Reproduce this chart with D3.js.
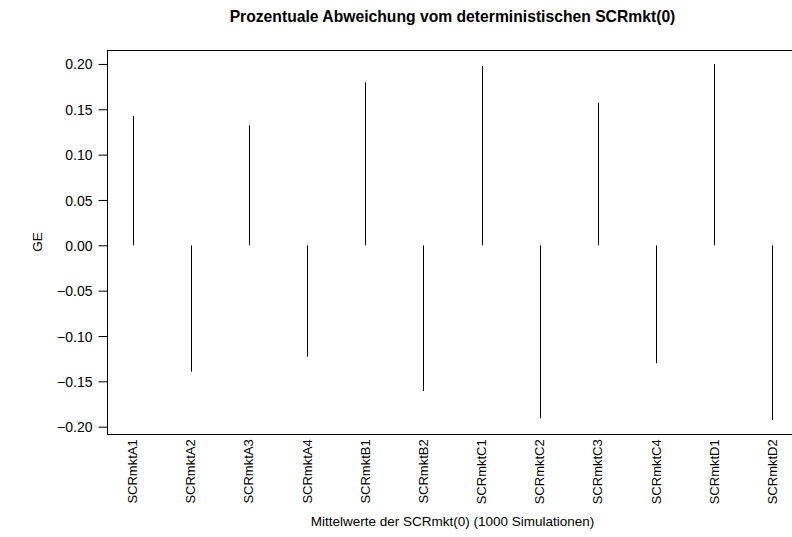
<!DOCTYPE html>
<html>
<head>
<meta charset="utf-8">
<script src="https://cdn.jsdelivr.net/npm/d3@7"></script>
<style>
  body { margin: 0; background: #fff; }
  svg { display: block; }
  text { font-family: "Liberation Sans", Arial, sans-serif; fill: #000; }
</style>
</head>
<body>
<div id="chart"></div>
<script>
'use strict'

// categories and mean relative deviations
const categories = ["SCRmktA1", "SCRmktA2", "SCRmktA3", "SCRmktA4",
                    "SCRmktB1", "SCRmktB2", "SCRmktC1", "SCRmktC2",
                    "SCRmktC3", "SCRmktC4", "SCRmktD1", "SCRmktD2"]
const values = [0.1426, -0.1394, 0.1323, -0.1228,
                0.1797, -0.1607, 0.1977, -0.1908,
                0.1573, -0.1301, 0.2000, -0.1927]
const yTicks = [-0.20, -0.15, -0.10, -0.05, 0.00, 0.05, 0.10, 0.15, 0.20]

const data = categories.map((c, i) => ({ category: c, value: values[i] }))

////////////////////////////////////
//////////// svg setup /////////////
////////////////////////////////////

const svgWidth = 792
const svgHeight = 537

// plot region (right side runs off the page, like the reference)
const plot = { left: 107, right: 798, top: 49.7, bottom: 434.3 }

const svg = d3.select('#chart')
    .append('svg')
    .attr('width', svgWidth)
    .attr('height', svgHeight)

////////////////////////////////////
//////////// Scales ////////////////
////////////////////////////////////

const x = d3.scalePoint()
    .domain(categories)
    .range([plot.left, plot.right])
    .padding(0.44)

// R style 4% extension of the data range
const lo = d3.min(values), hi = d3.max(values)
const ext = (hi - lo) * 0.04
const y = d3.scaleLinear()
    .domain([lo - ext, hi + ext])
    .range([plot.bottom, plot.top])

////////////////////////////////////
//////////// add to DOM ////////////
////////////////////////////////////

// spikes (type = "h")
svg.selectAll('.spike')
    .data(data)
    .join('line')
    .attr('class', 'spike')
    .attr('x1', d => Math.round(x(d.category)) + 0.5)
    .attr('x2', d => Math.round(x(d.category)) + 0.5)
    .attr('y1', y(0))
    .attr('y2', d => y(d.value))
    .attr('stroke', '#000')
    .attr('stroke-width', 1)

// box
svg.append('rect')
    .attr('x', plot.left + 0.5)
    .attr('y', Math.round(plot.top) + 0.5)
    .attr('width', plot.right - plot.left)
    .attr('height', Math.round(plot.bottom) - Math.round(plot.top))
    .attr('fill', 'none')
    .attr('stroke', '#000')

////////////////////////////////////
//////////// axis //////////////////
////////////////////////////////////

const fmt = v => d3.format('.2f')(v).replace('-', '\u2212')

const yAxis = svg.append('g')
    .attr('transform', `translate(${plot.left + 0.5},0)`)
    .call(d3.axisLeft(y).tickValues(yTicks).tickSize(9).tickPadding(6).tickFormat(fmt))

yAxis.select('.domain')
    .attr('d', `M0,${y(yTicks[0])}V${y(yTicks[yTicks.length - 1])}`)

yAxis.selectAll('text')
    .attr('dy', '0.36em')
    .style('font-size', '14px')
    .style('font-family', '"Liberation Sans", Arial, sans-serif')

// category labels, rotated
svg.selectAll('.xlab')
    .data(categories)
    .join('text')
    .attr('class', 'xlab')
    .attr('transform', d => `translate(${x(d) + 4.5},${plot.bottom + 5}) rotate(-90)`)
    .attr('text-anchor', 'end')
    .style('font-size', '13px')
    .text(d => d)

// titles
const midX = (plot.left + plot.right) / 2

svg.append('text')
    .attr('x', midX)
    .attr('y', 22)
    .attr('text-anchor', 'middle')
    .style('font-size', '15.7px')
    .style('font-weight', 'bold')
    .text('Prozentuale Abweichung vom deterministischen SCRmkt(0)')

svg.append('text')
    .attr('x', midX)
    .attr('y', 526)
    .attr('text-anchor', 'middle')
    .style('font-size', '13.5px')
    .text('Mittelwerte der SCRmkt(0) (1000 Simulationen)')

svg.append('text')
    .attr('transform', `translate(42,${(plot.top + plot.bottom) / 2}) rotate(-90)`)
    .attr('text-anchor', 'middle')
    .style('font-size', '13.5px')
    .text('GE')
</script>
</body>
</html>
